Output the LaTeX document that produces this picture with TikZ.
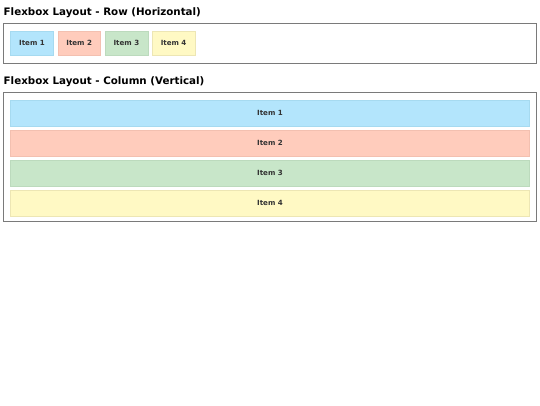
\documentclass[tikz,border=0pt]{standalone}
\usepackage{fontspec}
\setmainfont{DejaVu Sans}
\usetikzlibrary{positioning}
\definecolor{boxline}{HTML}{7A7A7A}
\definecolor{itemtext}{HTML}{333333}
\definecolor{blueitem}{HTML}{B3E5FC}
\definecolor{blueline}{HTML}{A6DAF0}
\definecolor{reditem}{HTML}{FFCCBC}
\definecolor{redline}{HTML}{F3C0B0}
\definecolor{greenitem}{HTML}{C8E6C9}
\definecolor{greenline}{HTML}{BCDABD}
\definecolor{yellowitem}{HTML}{FFF9C4}
\definecolor{yellowline}{HTML}{EDE6B4}
\tikzset{
	node distance=4.2pt and 3.8pt,
	title/.style= {
		font=\fontsize{10.3}{12}\selectfont\bfseries,
		anchor=base west,
		inner sep=0pt
	},
	container/.style= {
		draw=boxline,
		line width=0.9pt,
		fill=white
	},
	item/.style= {
		rectangle,
		font=\fontsize{7.1}{8}\selectfont\bfseries,
		text=itemtext,
		line width=0.6pt,
		inner sep=0pt
	},
	rowitem/.style= {
		item,
		minimum width=42.8pt,
		minimum height=23.8pt
	},
	colitem/.style= {
		item,
		minimum width=518.8pt,
		minimum height=25.2pt
	}
}

\begin{document}
\begin{tikzpicture}[x=1pt, y=1pt]
	\useasboundingbox (0,0) rectangle (540,-405);
	
	% row layout
	\node (rowTitle)[title] at (3.5,-15) {Flexbox Layout - Row (Horizontal)};
	\draw[container] (3.5,-23.5) rectangle (536.5,-63.5);
	
	\node (row1)[rowitem, fill=blueitem, draw=blueline, anchor=north west] at (10.3,-31.2) {Item 1};
	\node (row2)[rowitem, fill=reditem, draw=redline, right=of row1] {Item 2};
	\node (row3)[rowitem, fill=greenitem, draw=greenline, right=of row2] {Item 3};
	\node (row4)[rowitem, fill=yellowitem, draw=yellowline, right=of row3] {Item 4};
	
	% column layout
	\node (colTitle)[title] at (3.5,-84) {Flexbox Layout - Column (Vertical)};
	\draw[container] (3.5,-92.5) rectangle (536.5,-221.5);
	
	\node (col1)[colitem, fill=blueitem, draw=blueline, anchor=north west] at (10.3,-100.3) {Item 1};
	\node (col2)[colitem, fill=reditem, draw=redline, below=of col1] {Item 2};
	\node (col3)[colitem, fill=greenitem, draw=greenline, below=of col2] {Item 3};
	\node (col4)[colitem, fill=yellowitem, draw=yellowline, below=of col3] {Item 4};
	
\end{tikzpicture}
\end{document}
